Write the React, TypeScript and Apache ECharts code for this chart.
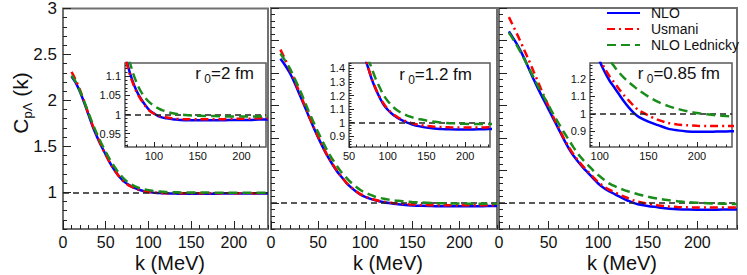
import React, { useEffect, useRef } from 'react';
import * as echarts from 'echarts';

// k (MeV) sampling points shared by all curves
const K = [10, 15, 20, 25, 30, 35, 40, 45, 50, 55, 60, 65, 70, 75, 80, 85, 90, 95, 100, 105, 110, 115, 120, 125, 130, 135, 140,
  150, 160, 170, 180, 190, 200, 210, 220, 230, 240];

// r0 = 2 fm
const NLO_2FM = [2.26, 2.19, 2.09, 1.97, 1.84, 1.71, 1.60, 1.50, 1.41, 1.32, 1.245, 1.18, 1.13, 1.092, 1.063, 1.042, 1.025, 1.011, 1.003, 0.996, 0.992, 0.99, 0.988, 0.987, 0.986, 0.985, 0.985,
  0.985, 0.985, 0.985, 0.985, 0.986, 0.986, 0.986, 0.987, 0.987, 0.987];
const USM_2FM = [2.31, 2.22, 2.11, 1.98, 1.85, 1.72, 1.61, 1.50, 1.41, 1.32, 1.245, 1.18, 1.125, 1.088, 1.06, 1.04, 1.023, 1.01, 1.002, 0.997, 0.994, 0.992, 0.99, 0.989, 0.988, 0.988, 0.988,
  0.988, 0.988, 0.988, 0.988, 0.989, 0.989, 0.989, 0.99, 0.99, 0.99];
const LED_2FM = [2.27, 2.20, 2.10, 1.985, 1.86, 1.74, 1.63, 1.53, 1.44, 1.355, 1.28, 1.215, 1.16, 1.117, 1.085, 1.061, 1.044, 1.032, 1.023, 1.016, 1.011, 1.007, 1.004, 1.002, 1.0, 0.999, 0.998,
  0.997, 0.996, 0.996, 0.995, 0.995, 0.995, 0.995, 0.995, 0.995, 0.995];

// r0 = 1.2 fm
const NLO_12FM = [3.22, 3.12, 3.00, 2.85, 2.68, 2.51, 2.34, 2.17, 2.01, 1.86, 1.72, 1.60, 1.49, 1.40, 1.31, 1.24, 1.18, 1.13, 1.095, 1.067, 1.045, 1.027, 1.012, 1.0, 0.99, 0.981, 0.974,
  0.963, 0.956, 0.953, 0.951, 0.95, 0.95, 0.95, 0.951, 0.952, 0.953];
const USM_12FM = [3.36, 3.21, 3.05, 2.89, 2.71, 2.53, 2.35, 2.18, 2.02, 1.87, 1.73, 1.61, 1.50, 1.40, 1.315, 1.245, 1.185, 1.137, 1.10, 1.072, 1.05, 1.032, 1.018, 1.007, 0.998, 0.99, 0.984,
  0.975, 0.97, 0.967, 0.965, 0.964, 0.964, 0.964, 0.964, 0.965, 0.965];
const LED_12FM = [3.30, 3.19, 3.07, 2.92, 2.76, 2.59, 2.41, 2.25, 2.09, 1.94, 1.80, 1.68, 1.57, 1.47, 1.39, 1.315, 1.255, 1.20, 1.16, 1.128, 1.10, 1.08, 1.065, 1.052, 1.042, 1.033, 1.026,
  1.015, 1.007, 1.0, 0.996, 0.993, 0.991, 0.99, 0.989, 0.989, 0.989];

// r0 = 0.85 fm
const NLO_085FM = [3.64, 3.52, 3.39, 3.24, 3.07, 2.90, 2.74, 2.59, 2.44, 2.29, 2.14, 1.99, 1.85, 1.73, 1.63, 1.54, 1.46, 1.38, 1.30, 1.24, 1.19, 1.15, 1.11, 1.07, 1.035, 1.005, 0.982,
  0.955, 0.935, 0.915, 0.905, 0.899, 0.897, 0.897, 0.898, 0.899, 0.90];
const USM_085FM = [3.86, 3.70, 3.54, 3.37, 3.20, 3.02, 2.84, 2.66, 2.49, 2.32, 2.16, 2.01, 1.87, 1.75, 1.65, 1.56, 1.48, 1.40, 1.32, 1.26, 1.215, 1.178, 1.14, 1.105, 1.075, 1.045, 1.02,
  0.99, 0.965, 0.948, 0.939, 0.934, 0.931, 0.93, 0.93, 0.93, 0.93];
const LED_085FM = [3.62, 3.50, 3.37, 3.23, 3.08, 2.93, 2.78, 2.64, 2.50, 2.36, 2.23, 2.10, 1.98, 1.86, 1.75, 1.66, 1.58, 1.50, 1.43, 1.37, 1.31, 1.27, 1.235, 1.205, 1.18, 1.157, 1.135,
  1.098, 1.068, 1.045, 1.028, 1.014, 1.004, 0.997, 0.991, 0.987, 0.984];

const SERIES_NAMES = ['NLO', 'Usmani', 'NLO Lednicky'];

// tick labels
const MAIN_X_TICKS = [0, 50, 100, 150, 200];
const MAIN1_Y_TICKS = [1, 1.5, 2, 2.5, 3];
const MAIN23_Y_TICKS = [1, 1.5, 2, 2.5, 3, 3.5, 4];
const INSET1_X_TICKS = [100, 150, 200];
const INSET1_Y_TICKS = [0.95, 1, 1.05, 1.1];
const INSET2_X_TICKS = [50, 100, 150, 200];
const INSET2_Y_TICKS = [0.9, 1, 1.1, 1.2, 1.3, 1.4];
const INSET3_X_TICKS = [100, 150, 200];
const INSET3_Y_TICKS = [0.9, 1, 1.1, 1.2];

const RADII = ['2', '1.2', '0.85'];

const FONT = '"Liberation Sans", Arial, Helvetica, sans-serif';
const COLORS = ['#0000ff', '#ff0000', '#1a8c1a'];
const DASHES: any[] = ['solid', [8, 4, 2, 4], [9, 5]];

function steps(a: number, b: number, s: number) {
  const r: number[] = [];
  const n = Math.round((b - a) / s);
  for (let i = 0; i <= n; i++) r.push(Math.round((a + i * s) * 10000) / 10000);
  return r;
}

function buildOption() {
  const sets = [
    [NLO_2FM, USM_2FM, LED_2FM],
    [NLO_12FM, USM_12FM, LED_12FM],
    [NLO_085FM, USM_085FM, LED_085FM],
  ];
  const panels = [
    { main: true, box: [63, 8, 205, 221], x: [0, 240], y: [0.6, 3], xt: MAIN_X_TICKS, yt: MAIN1_Y_TICKS, xs: 10, ys: 0.1, yLab: true, set: 0 },
    { main: true, box: [271, 8, 226, 221], x: [0, 240], y: [0.6, 4], xt: MAIN_X_TICKS, yt: MAIN23_Y_TICKS, xs: 10, ys: 0.1, yLab: false, set: 1 },
    { main: true, box: [499, 8, 238, 221], x: [0, 240], y: [0.6, 4], xt: MAIN_X_TICKS, yt: MAIN23_Y_TICKS, xs: 10, ys: 0.1, yLab: false, set: 2 },
    { main: false, box: [125, 63, 141, 84], x: [67, 228], y: [0.915, 1.135], xt: INSET1_X_TICKS, yt: INSET1_Y_TICKS, xs: 10, ys: 0.01, yLab: true, set: 0 },
    { main: false, box: [349, 63, 141, 84], x: [50, 232], y: [0.82, 1.44], xt: INSET2_X_TICKS, yt: INSET2_Y_TICKS, xs: 10, ys: 0.02, yLab: true, set: 1 },
    { main: false, box: [590, 63, 142, 84], x: [90, 236], y: [0.81, 1.29], xt: INSET3_X_TICKS, yt: INSET3_Y_TICKS, xs: 10, ys: 0.02, yLab: true, set: 2 },
  ];
  const grid: any[] = [];
  const xAxis: any[] = [];
  const yAxis: any[] = [];
  const series: any[] = [];
  panels.forEach((p, i) => {
    const [left, top, width, height] = p.box;
    grid.push({
      left, top, width, height, show: true,
      borderColor: p.main ? '#707070' : '#5a5a5a',
      borderWidth: p.main ? 2 : 1.5,
      backgroundColor: p.main ? 'transparent' : '#ffffff',
    });
    const majLen = p.main ? 8 : 5;
    const minLen = p.main ? 4 : 2.5;
    const fs = p.main ? 16 : 11;
    const tickStyle = { color: '#222', width: 1 };
    const xMinorStart = Math.ceil(p.x[0] / p.xs) * p.xs;
    const yMinorStart = Math.ceil(p.y[0] / p.ys - 1e-6) * p.ys;
    xAxis.push({
      type: 'value', gridIndex: i, min: p.x[0], max: p.x[1], position: 'bottom',
      axisLine: { show: false }, splitLine: { show: false },
      axisTick: { show: true, inside: true, length: majLen, customValues: p.xt, lineStyle: tickStyle },
      axisLabel: { show: true, customValues: p.xt, fontSize: fs, fontFamily: FONT, color: '#111', margin: p.main ? 5 : 3 },
    });
    xAxis.push({
      type: 'value', gridIndex: i, min: p.x[0], max: p.x[1], position: 'bottom',
      axisLine: { show: false }, splitLine: { show: false },
      axisTick: { show: true, inside: true, length: minLen, customValues: steps(xMinorStart, Math.floor(p.x[1] / p.xs) * p.xs, p.xs), lineStyle: tickStyle },
      axisLabel: { show: false },
    });
    yAxis.push({
      type: 'value', gridIndex: i, min: p.y[0], max: p.y[1], position: 'left',
      axisLine: { show: false }, splitLine: { show: false },
      axisTick: { show: true, inside: true, length: majLen, customValues: p.yt, lineStyle: tickStyle },
      axisLabel: { show: p.yLab, customValues: p.yt, fontSize: p.main ? 17 : 11, fontFamily: FONT, color: '#111', margin: p.main ? 6 : 4 },
    });
    yAxis.push({
      type: 'value', gridIndex: i, min: p.y[0], max: p.y[1], position: 'left',
      axisLine: { show: false }, splitLine: { show: false },
      axisTick: { show: true, inside: true, length: minLen, customValues: steps(yMinorStart, Math.floor(p.y[1] / p.ys + 1e-6) * p.ys, p.ys), lineStyle: tickStyle },
      axisLabel: { show: false },
    });
    const set = sets[p.set];
    set.forEach((vals, j) => {
      const s: any = {
        type: 'line', name: SERIES_NAMES[j], xAxisIndex: 2 * i, yAxisIndex: 2 * i,
        data: K.map((k, idx) => [k, vals[idx]]),
        symbol: 'none', showSymbol: false, smooth: 0.3, silent: true, clip: true,
        lineStyle: { color: COLORS[j], width: 2.5, type: DASHES[j] },
        itemStyle: { color: COLORS[j] },
        z: 3 + j,
      };
      if (j === 0) {
        s.markLine = {
          silent: true, symbol: ['none', 'none'], label: { show: false },
          lineStyle: { color: '#222', width: 1.5, type: [6, 4] },
          data: [{ yAxis: 1 }],
        };
      }
      series.push(s);
    });
  });

  const subRich = (main: number, sub: number) => ({
    m: { fontSize: main, fontFamily: FONT, fill: '#111', lineHeight: main + 6, verticalAlign: 'middle' },
    s: { fontSize: sub, fontFamily: FONT, fill: '#111', lineHeight: sub, verticalAlign: 'bottom' },
  });

  const graphic: any[] = [
    {
      type: 'text', x: 20, y: 103, rotation: Math.PI / 2,
      style: { text: '{m|C}{s|p\u039B}{m| (k)}', rich: subRich(21, 13), align: 'center', verticalAlign: 'middle' },
    },
  ];
  [170, 388, 622].forEach((cx) => {
    graphic.push({ type: 'text', x: cx, y: 263, style: { text: 'k (MeV)', fontSize: 20, fontFamily: FONT, fill: '#111', align: 'center', verticalAlign: 'middle' } });
  });
  const insetTextPos = [[254, 73], [472, 74], [720, 73]];
  RADII.forEach((r, i) => {
    graphic.push({
      type: 'text', x: insetTextPos[i][0], y: insetTextPos[i][1], z: 100,
      style: { text: '{m|r}{s| 0}{m|=' + r + ' fm}', rich: subRich(17, 12), align: 'right', verticalAlign: 'middle' },
    });
  });

  return {
    animation: false,
    backgroundColor: '#ffffff',
    grid, xAxis, yAxis, series, graphic,
    legend: {
      data: SERIES_NAMES, orient: 'vertical', left: 606, top: 6,
      itemWidth: 33, itemHeight: 14, itemGap: 2, padding: 0, selectedMode: false,
      itemStyle: { opacity: 0 },
      textStyle: { fontSize: 14, fontFamily: FONT, color: '#111', padding: [0, 0, 0, 6] },
    },
  };
}

export default function App() {
  const ref = useRef<HTMLDivElement>(null);
  useEffect(() => {
    document.body.style.margin = '0';
    const chart = echarts.init(ref.current as HTMLDivElement, null, { renderer: 'svg' });
    chart.setOption(buildOption() as any);
    return () => chart.dispose();
  }, []);
  return <div ref={ref} style={{ position: 'absolute', left: 0, top: 0, width: 747, height: 275, background: '#fff' }} />;
}
